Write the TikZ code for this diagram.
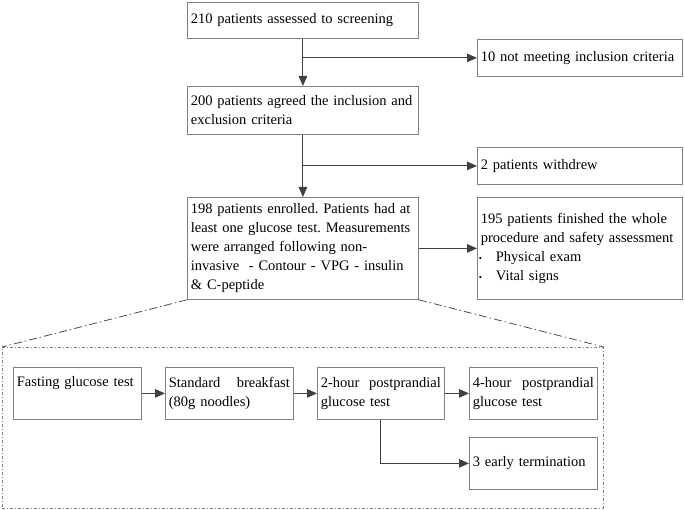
\documentclass[tikz,border=0pt]{standalone}
\usepackage{fontspec}
\setmainfont{Liberation Serif}
\usetikzlibrary{arrows.meta}
\frenchspacing
\tikzset{
  box/.style={draw=gray, line width=0.8pt, anchor=north west, inner xsep=3.5pt, inner ysep=0pt,
    align=left, font=\fontsize{14.5}{19}\selectfont},
  flow/.style={draw=black!75, line width=0.9pt, -{Triangle[length=10pt,width=8.5pt]}},
  zoomline/.style={draw=black!70, line width=0.8pt, dash pattern=on 8pt off 3pt on 1.5pt off 3pt},
  detailbox/.style={draw=gray, line width=0.7pt, anchor=north west, inner sep=0pt,
    dash pattern=on 3pt off 2pt on 1pt off 2pt},
}
\newcommand{\itm}{\hspace*{-2pt}\makebox[17pt][l]{\fontsize{9}{9}\selectfont\textbullet}}
\begin{document}
\begin{tikzpicture}[x=1pt,y=-1pt]
\useasboundingbox (0,0) rectangle (685,510);
% main column
\node[box, text width=224pt, minimum height=36pt] (screen) at (187,2) {210 patients assessed to screening};
\node[box, text width=224pt, minimum height=48pt] (agreed) at (187,86) {200 patients agreed the inclusion and\\exclusion criteria};
\node[box, text width=224pt, minimum height=102pt] (enrolled) at (187,197) {198 patients enrolled. Patients had at\\least one glucose test. Measurements\\were arranged following non-\\invasive~ - Contour - VPG - insulin\\\& C-peptide};
% right column
\node[box, text width=198pt, minimum height=37pt] (notmeet) at (477,39) {10 not meeting inclusion criteria};
\node[box, text width=198pt, minimum height=37pt] (withdrew) at (477,147) {2 patients withdrew};
\node[box, text width=198pt, minimum height=102pt] (finished) at (477,197) {195 patients finished the whole\\procedure and safety assessment\\\itm Physical exam\\\itm Vital signs};
% detail
\node[detailbox, minimum width=601pt, minimum height=161pt] (detail) at (2,347) {};
\node[box, text width=121pt, minimum height=52pt] (fasting) at (13,367) {Fasting glucose test\\\strut};
\node[box, text width=121pt, minimum height=52pt] (breakfast) at (165,367) {Standard\hfill breakfast\\(80g noodles)};
\node[box, text width=120pt, minimum height=52pt] (twohour) at (317,367) {2-hour\hfill postprandial\\glucose test};
\node[box, text width=121pt, minimum height=52pt] (fourhour) at (469,367) {4-hour\hfill postprandial\\glucose test};
\node[box, text width=121pt, minimum height=52pt] (early) at (469,437) {3 early termination};
% connectors
\draw[flow] (screen.south) -- (agreed.north);
\draw[flow] (screen |- notmeet) -- (notmeet.west);
\draw[flow] (agreed.south) -- (enrolled.north);
\draw[flow] (agreed |- withdrew) -- (withdrew.west);
\draw[flow] (enrolled.east) -- (enrolled.east -| finished.west);
\draw[zoomline] (enrolled.south west) -- (detail.north west);
\draw[zoomline] (enrolled.south east) -- (detail.north east);
\draw[flow] (fasting.east) -- (breakfast.west);
\draw[flow] (breakfast.east) -- (twohour.west);
\draw[flow] (twohour.east) -- (fourhour.west);
\draw[flow] (twohour.south) |- (early.west);
\end{tikzpicture}
\end{document}
